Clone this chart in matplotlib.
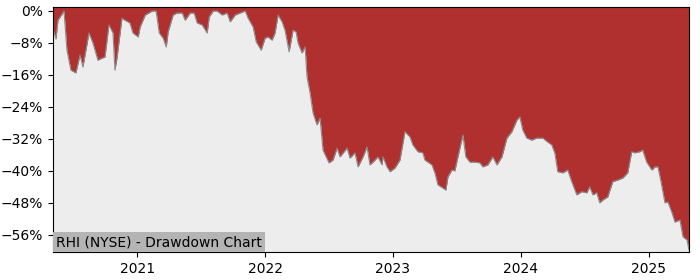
import matplotlib
matplotlib.use("Agg")
import matplotlib.pyplot as plt
import matplotlib.dates as mdates
import matplotlib.ticker as mticker
import pandas as pd

# Drawdown of RHI (time as decimal year, drawdown in %)
years = [
    2020.344, 2020.367, 2020.383, 2020.430, 2020.453, 2020.484, 2020.523, 2020.555,
    2020.578, 2020.625, 2020.656, 2020.695, 2020.727, 2020.750, 2020.781, 2020.813,
    2020.828, 2020.844, 2020.883, 2020.906, 2020.945, 2020.969, 2021.008, 2021.023,
    2021.063, 2021.117, 2021.148, 2021.172, 2021.203, 2021.227, 2021.242, 2021.281,
    2021.313, 2021.352, 2021.375, 2021.414, 2021.445, 2021.469, 2021.508, 2021.547,
    2021.563, 2021.594, 2021.625, 2021.664, 2021.703, 2021.727, 2021.766, 2021.805,
    2021.844, 2021.867, 2021.906, 2021.930, 2021.969, 2022.000, 2022.023, 2022.055,
    2022.078, 2022.102, 2022.133, 2022.156, 2022.188, 2022.219, 2022.242, 2022.258,
    2022.289, 2022.313, 2022.328, 2022.352, 2022.375, 2022.406, 2022.430, 2022.453,
    2022.500, 2022.531, 2022.563, 2022.586, 2022.641, 2022.664, 2022.703, 2022.727,
    2022.766, 2022.797, 2022.820, 2022.844, 2022.883, 2022.914, 2022.922, 2022.953,
    2022.977, 2023.016, 2023.055, 2023.094, 2023.133, 2023.156, 2023.195, 2023.234,
    2023.250, 2023.273, 2023.305, 2023.328, 2023.352, 2023.391, 2023.414, 2023.430,
    2023.461, 2023.484, 2023.508, 2023.547, 2023.570, 2023.602, 2023.641, 2023.680,
    2023.703, 2023.742, 2023.781, 2023.813, 2023.852, 2023.891, 2023.930, 2023.969,
    2023.992, 2024.016, 2024.047, 2024.086, 2024.125, 2024.172, 2024.211, 2024.242,
    2024.266, 2024.289, 2024.328, 2024.367, 2024.398, 2024.438, 2024.477, 2024.516,
    2024.539, 2024.563, 2024.594, 2024.617, 2024.641, 2024.680, 2024.719, 2024.758,
    2024.797, 2024.836, 2024.867, 2024.891, 2024.930, 2024.953, 2024.984, 2025.023,
    2025.047, 2025.070, 2025.094, 2025.125, 2025.148, 2025.180, 2025.203, 2025.242,
    2025.266, 2025.297, 2025.313,
]
drawdown = [
    -4.3, -7.0, -2.3, 0.0, -9.8, -14.8, -15.5, -11.0,
    -14.0, -5.5, -8.0, -12.3, -11.8, -11.5, -3.5, -5.5,
    -14.8, -11.8, -1.8, -2.3, -3.0, -5.5, -6.5, -4.0,
    -1.0, 0.0, 0.0, -5.5, -6.8, -9.0, -5.2, -1.0,
    -0.5, -0.5, -2.3, -0.5, -0.5, -3.0, -3.5, -5.5,
    -1.5, 0.0, 0.0, -1.0, -0.5, -2.7, -1.0, -0.5,
    0.0, -1.8, -4.0, -7.7, -9.8, -6.8, -6.5, -7.3,
    -5.5, -1.0, -2.7, -4.8, -10.2, -4.8, -5.2, -8.0,
    -10.5, -9.0, -16.5, -20.5, -25.5, -28.5, -26.8, -34.8,
    -38.0, -37.3, -34.3, -36.5, -34.3, -36.8, -35.5, -39.0,
    -36.5, -34.0, -38.5, -37.8, -36.5, -38.5, -36.5, -39.0,
    -40.2, -39.3, -37.3, -30.2, -31.5, -33.5, -35.2, -35.5,
    -37.3, -37.8, -38.5, -40.5, -43.5, -44.3, -44.8, -41.5,
    -39.8, -40.0, -36.5, -31.0, -36.5, -37.8, -37.8, -38.0,
    -39.0, -38.5, -36.5, -38.5, -36.5, -31.8, -30.2, -27.3,
    -26.5, -29.8, -31.8, -32.3, -31.8, -31.8, -32.8, -33.5,
    -35.5, -40.2, -40.5, -39.8, -42.7, -46.0, -45.2, -45.5,
    -44.0, -46.0, -45.5, -48.0, -47.3, -46.5, -42.7, -42.3,
    -41.8, -40.5, -35.2, -35.5, -35.2, -34.8, -37.8, -39.8,
    -39.0, -39.0, -42.7, -48.0, -47.8, -50.5, -52.8, -52.3,
    -56.5, -57.3, -59.8,
]


def to_date(y):
    yr = int(y)
    return pd.Timestamp(f"{yr}-01-01") + pd.Timedelta(days=(y - yr) * 365.25)


dates = [to_date(y) for y in years]
y_top = 1.0

fig = plt.figure(figsize=(7, 2.8), dpi=100)
ax = fig.add_axes([0.0757, 0.1, 0.9086, 0.875])
ax.set_facecolor("#ededed")

# red area runs from the drawdown line up to the top of the axes
ax.fill_between(dates, drawdown, y_top, color="#b03030", linewidth=0)
ax.plot(dates, drawdown, color="#8a8a8a", linewidth=0.8)

ax.set_xlim(dates[0], dates[-1])
ax.set_ylim(-60.3, y_top)
ax.set_yticks(range(0, -57, -8))
ax.yaxis.set_major_formatter(mticker.FuncFormatter(lambda v, p: f"{v:.0f}%".replace("-", "\u2212")))
ax.xaxis.set_major_locator(mdates.YearLocator())
ax.xaxis.set_major_formatter(mdates.DateFormatter("%Y"))
ax.tick_params(labelsize=10)

ax.text(0.005, 0.012, "RHI (NYSE) - Drawdown Chart", transform=ax.transAxes,
        fontsize=10, ha="left", va="bottom",
        bbox=dict(facecolor="#b4b4b4", edgecolor="none", pad=2))

fig.savefig("out.png", dpi=100)
